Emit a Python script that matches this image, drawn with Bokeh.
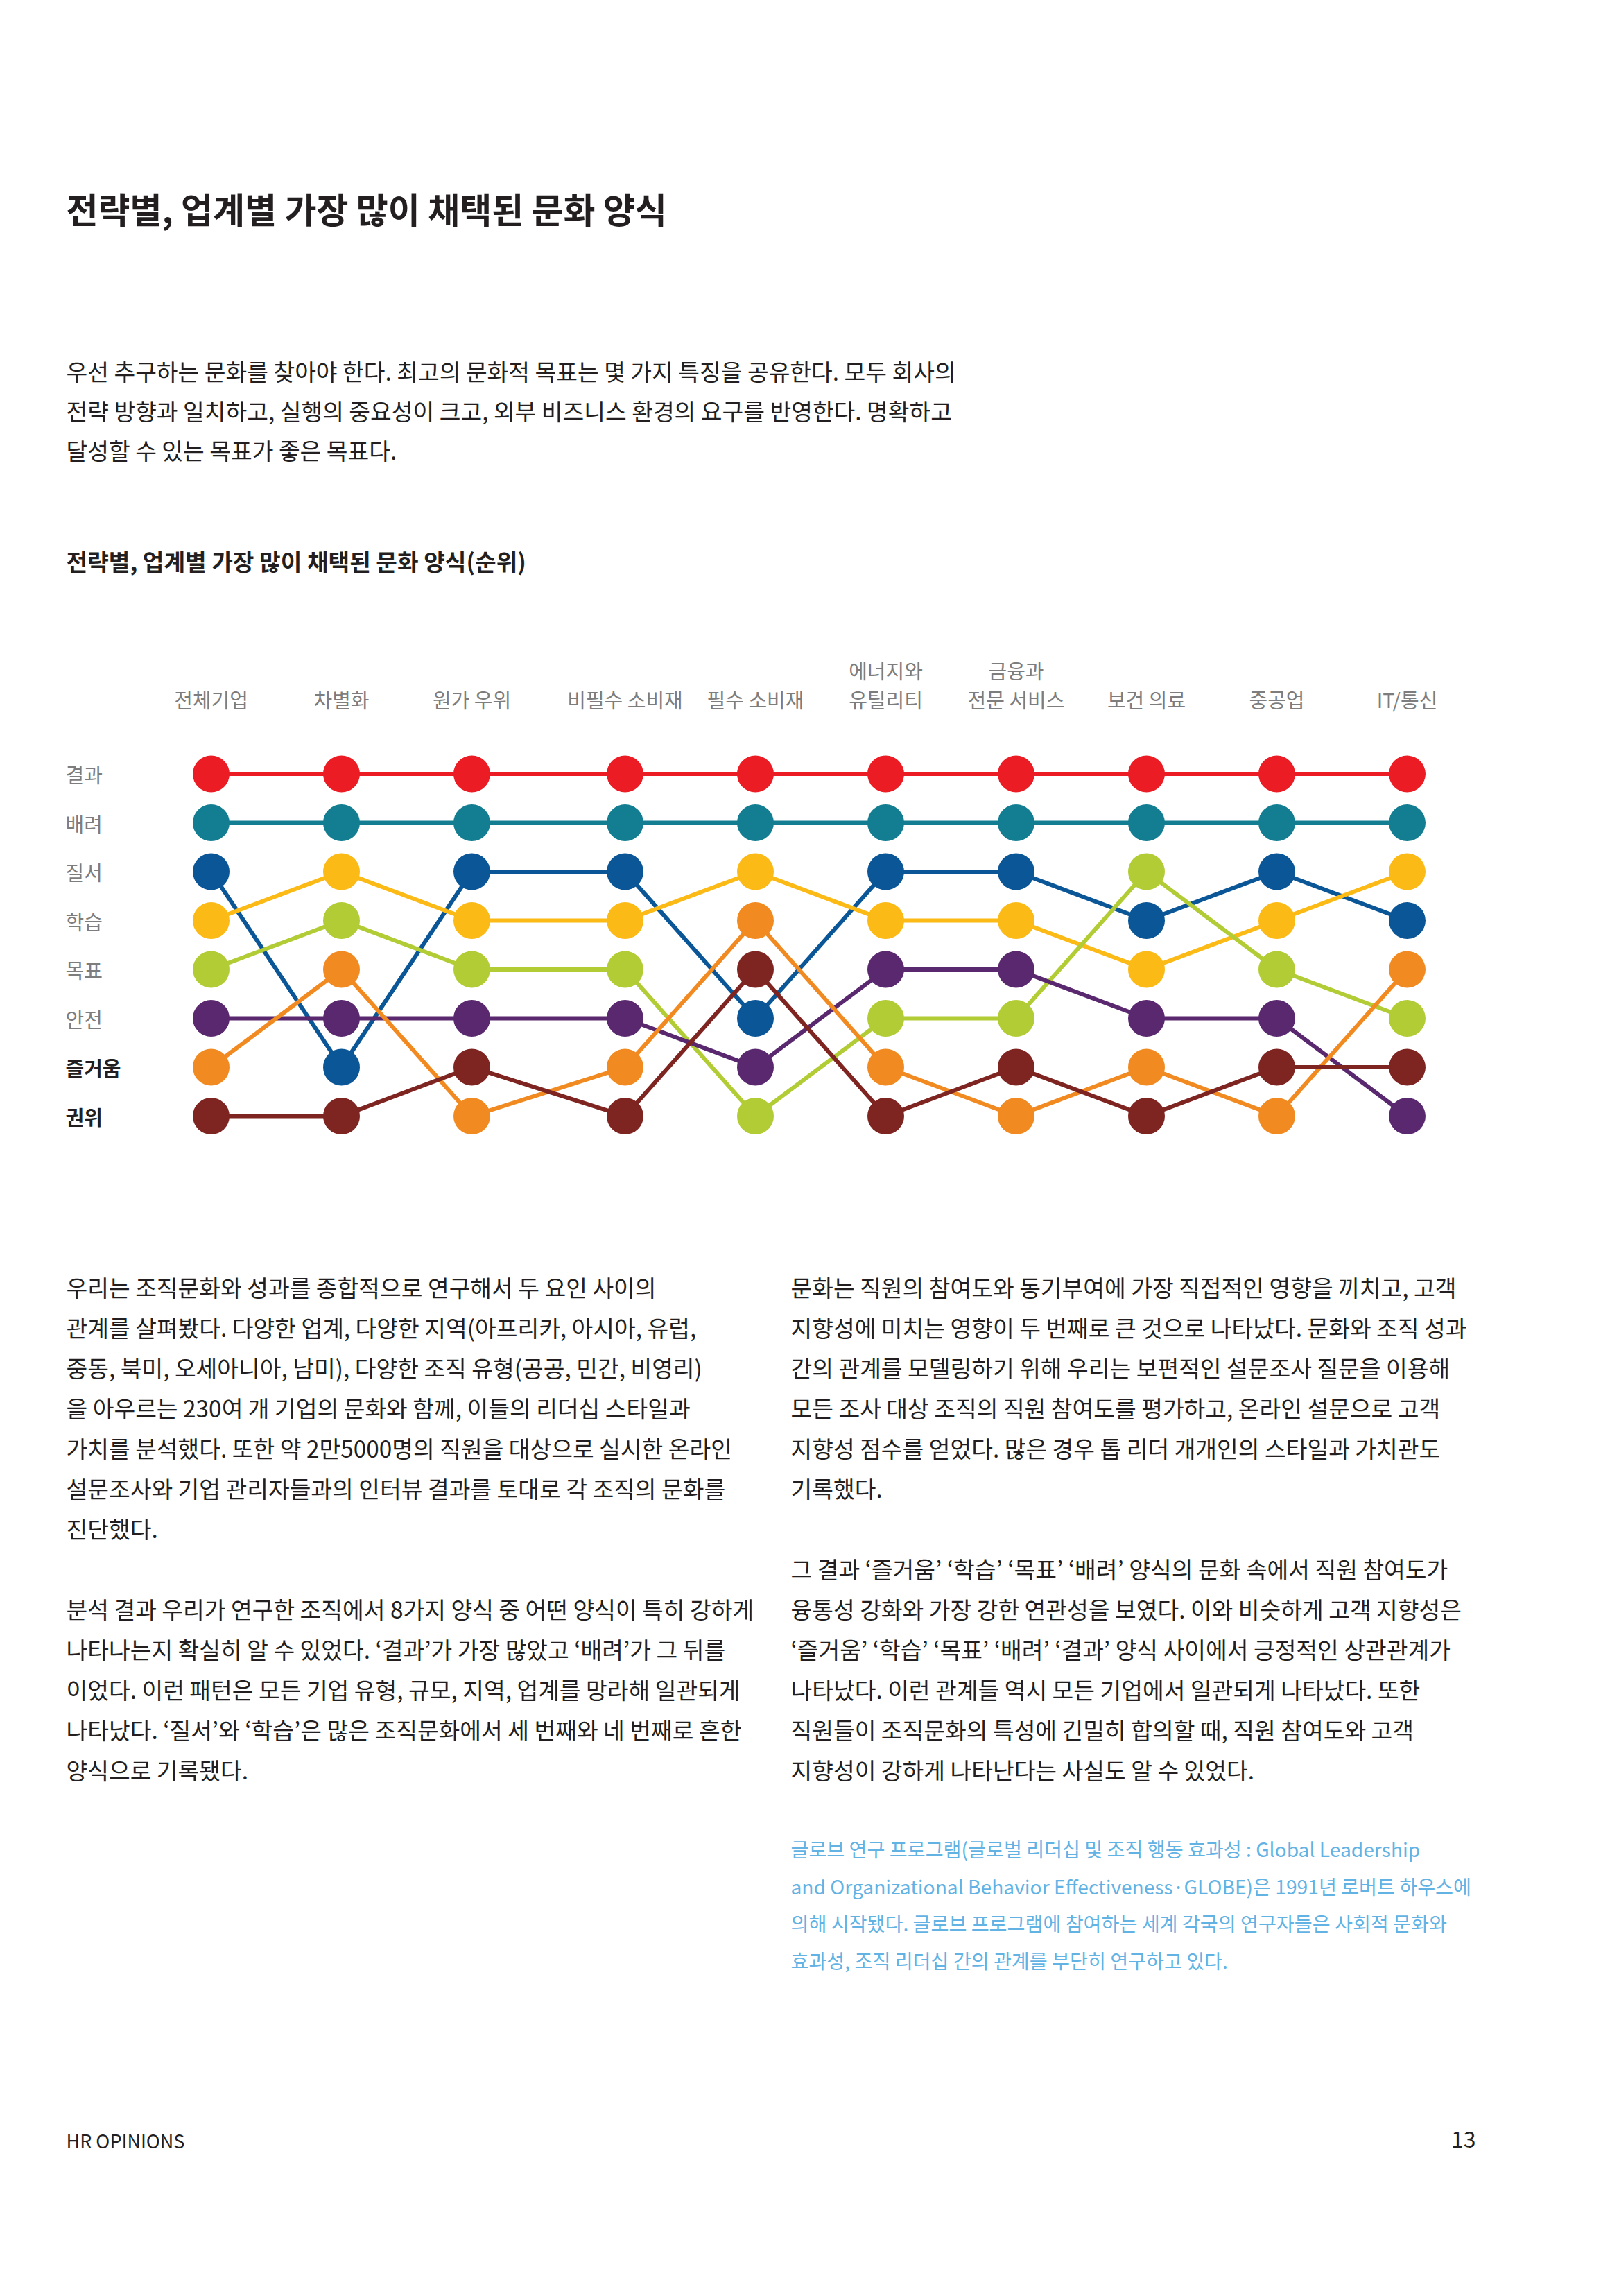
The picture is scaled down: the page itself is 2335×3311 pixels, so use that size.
from bokeh.plotting import figure
from bokeh.layouts import column
from bokeh.models import FactorRange, Range1d
from bokeh.core.properties import value
from bokeh.embed import file_html
from bokeh.resources import INLINE

# ---------------- data ----------------
groups = ["전략", "전략", "전략", "업계", "업계", "업계", "업계", "업계", "업계", "업계"]
columns = ["전체기업", "차별화", "원가 우위", "비필수 소비재", "필수 소비재",
           "에너지와 유틸리티", "금융과 전문 서비스", "보건 의료", "중공업", "IT/통신"]
column_label_top = ["", "", "", "", "", "에너지와", "금융과", "", "", ""]
column_label_bottom = ["전체기업", "차별화", "원가 우위", "비필수 소비재", "필수 소비재",
                       "유틸리티", "전문 서비스", "보건 의료", "중공업", "IT/통신"]

styles = ["결과", "배려", "질서", "학습", "목표", "안전", "즐거움", "권위"]
rank_result = [1, 1, 1, 1, 1, 1, 1, 1, 1, 1]
rank_caring = [2, 2, 2, 2, 2, 2, 2, 2, 2, 2]
rank_order = [3, 7, 3, 3, 6, 3, 3, 4, 3, 4]
rank_learning = [4, 3, 4, 4, 3, 4, 4, 5, 4, 3]
rank_purpose = [5, 4, 5, 5, 8, 6, 6, 3, 5, 6]
rank_safety = [6, 6, 6, 6, 7, 5, 5, 6, 6, 8]
rank_enjoyment = [7, 5, 8, 7, 4, 7, 8, 7, 8, 5]
rank_authority = [8, 8, 7, 8, 5, 8, 7, 8, 7, 7]
style_colors = ["#EC1C24", "#137E92", "#0B5697", "#FBBA15",
                "#B2CC35", "#5A286F", "#F18A21", "#7E2421"]
emphasised = ["즐거움", "권위"]

title = "전략별, 업계별 가장 많이 채택된 문화 양식"
subtitle = "전략별, 업계별 가장 많이 채택된 문화 양식(순위)"
intro_lines = [
    "우선 추구하는 문화를 찾아야 한다. 최고의 문화적 목표는 몇 가지 특징을 공유한다. 모두 회사의",
    "전략 방향과 일치하고, 실행의 중요성이 크고, 외부 비즈니스 환경의 요구를 반영한다. 명확하고",
    "달성할 수 있는 목표가 좋은 목표다.",
]
left_lines = [
    "우리는 조직문화와 성과를 종합적으로 연구해서 두 요인 사이의",
    "관계를 살펴봤다. 다양한 업계, 다양한 지역(아프리카, 아시아, 유럽,",
    "중동, 북미, 오세아니아, 남미), 다양한 조직 유형(공공, 민간, 비영리)",
    "을 아우르는 230여 개 기업의 문화와 함께, 이들의 리더십 스타일과",
    "가치를 분석했다. 또한 약 2만5000명의 직원을 대상으로 실시한 온라인",
    "설문조사와 기업 관리자들과의 인터뷰 결과를 토대로 각 조직의 문화를",
    "진단했다.",
    "",
    "분석 결과 우리가 연구한 조직에서 8가지 양식 중 어떤 양식이 특히 강하게",
    "나타나는지 확실히 알 수 있었다. ‘결과’가 가장 많았고 ‘배려’가 그 뒤를",
    "이었다. 이런 패턴은 모든 기업 유형, 규모, 지역, 업계를 망라해 일관되게",
    "나타났다. ‘질서’와 ‘학습’은 많은 조직문화에서 세 번째와 네 번째로 흔한",
    "양식으로 기록됐다.",
]
right_lines = [
    "문화는 직원의 참여도와 동기부여에 가장 직접적인 영향을 끼치고, 고객",
    "지향성에 미치는 영향이 두 번째로 큰 것으로 나타났다. 문화와 조직 성과",
    "간의 관계를 모델링하기 위해 우리는 보편적인 설문조사 질문을 이용해",
    "모든 조사 대상 조직의 직원 참여도를 평가하고, 온라인 설문으로 고객",
    "지향성 점수를 얻었다. 많은 경우 톱 리더 개개인의 스타일과 가치관도",
    "기록했다.",
    "",
    "그 결과 ‘즐거움’ ‘학습’ ‘목표’ ‘배려’ 양식의 문화 속에서 직원 참여도가",
    "융통성 강화와 가장 강한 연관성을 보였다. 이와 비슷하게 고객 지향성은",
    "‘즐거움’ ‘학습’ ‘목표’ ‘배려’ ‘결과’ 양식 사이에서 긍정적인 상관관계가",
    "나타났다. 이런 관계들 역시 모든 기업에서 일관되게 나타났다. 또한",
    "직원들이 조직문화의 특성에 긴밀히 합의할 때, 직원 참여도와 고객",
    "지향성이 강하게 나타난다는 사실도 알 수 있었다.",
]
note_lines = [
    "글로브 연구 프로그램(글로벌 리더십 및 조직 행동 효과성 : Global Leadership",
    "and Organizational Behavior Effectiveness·GLOBE)은 1991년 로버트 하우스에",
    "의해 시작됐다. 글로브 프로그램에 참여하는 세계 각국의 연구자들은 사회적 문화와",
    "효과성, 조직 리더십 간의 관계를 부단히 연구하고 있다.",
]
footer_left = "HR OPINIONS"
page_number = "13"

# ---------------- layout constants (page pixels) ----------------
FONT = value("Noto Sans CJK KR")
W = 2333               # centred on the category span (page x 1166.5)
TOP_END = 900          # page y where chart figure starts
CHART_END = 1700       # page y where chart figure ends
PAGE_END = 3303
ROW1_Y, ROW_GAP = 1115.5, 70.5      # page px of rank 1 and px per rank
COL1_X = 305                          # page px of first category
UNIT = 188.0                          # px per category
GROUP_GAP = 0.1755
PAD = (W / UNIT - (len(columns) + GROUP_GAP)) / 2
INK = "#231F20"
GREY = "#7D7D7D"
BODY = "33.4px"


def base_fig(h, x_range, y_range):
    f = figure(width=W, height=h, x_range=x_range, y_range=y_range,
               output_backend="svg", toolbar_location=None,
               x_axis_location=None, y_axis_location=None,
               min_border=0, outline_line_color=None,
               background_fill_color="white", border_fill_color="white")
    f.grid.visible = False
    return f


def text_fig(y0, y1):
    return base_fig(y1 - y0, Range1d(0, W), Range1d(y1, y0))


def page_text(f, xs, ys, texts, size, color=INK, style="normal", align="left"):
    f.text(x=xs, y=ys, text=texts, text_font=FONT, text_font_size=size,
           text_color=color, text_font_style=style, text_align=align,
           text_baseline="middle")


# ---------------- top: title / intro / subtitle ----------------
top = text_fig(0, TOP_END)
page_text(top, [95], [299], [title], "50px", style="bold")
page_text(top, [95] * 3, [534 + 57 * i for i in range(3)], intro_lines, BODY)
page_text(top, [95], [808], [subtitle], "33.3px", style="bold")

# ---------------- chart ----------------
def page_to_rank(y):
    return 1 + (y - ROW1_Y) / ROW_GAP


factors = [(g, c) for g, c in zip(groups, columns)]
x_range = FactorRange(factors=factors, group_padding=GROUP_GAP,
                      range_padding=PAD, range_padding_units="absolute")
chart = base_fig(CHART_END - TOP_END, x_range,
                 Range1d(page_to_rank(CHART_END), page_to_rank(TOP_END)))

all_ranks = [rank_result, rank_caring, rank_order, rank_learning,
             rank_purpose, rank_safety, rank_enjoyment, rank_authority]
for ranks, col in zip(all_ranks, style_colors):
    chart.line(x=factors, y=ranks, line_color=col, line_width=6)
for ranks, col in zip(all_ranks, style_colors):
    chart.scatter(x=factors, y=ranks, size=53, fill_color=col, line_color=None)

# column headers
top_f = [f for f, t in zip(factors, column_label_top) if t]
top_t = [t for t in column_label_top if t]
chart.text(x=top_f, y=[page_to_rank(965)] * len(top_f), text=top_t,
           text_font=FONT, text_font_size="29px", text_color=GREY,
           text_align="center", text_baseline="middle")
chart.text(x=factors, y=[page_to_rank(1007)] * len(factors), text=column_label_bottom,
           text_font=FONT, text_font_size="29px", text_color=GREY,
           text_align="center", text_baseline="middle")

# row labels (overall ranking order = first column)
first_ranks = [r[0] for r in all_ranks]
plain = [(s, r) for s, r in zip(styles, first_ranks) if s not in emphasised]
bold = [(s, r) for s, r in zip(styles, first_ranks) if s in emphasised]
chart.text(x=[factors[0]] * len(plain), y=[r for _, r in plain], text=[s for s, _ in plain],
           x_offset=95 - COL1_X, text_font=FONT, text_font_size="29px", text_color=GREY,
           text_align="left", text_baseline="middle")
chart.text(x=[factors[0]] * len(bold), y=[r for _, r in bold], text=[s for s, _ in bold],
           x_offset=95 - COL1_X, text_font=FONT, text_font_size="29px", text_color=INK,
           text_font_style="bold", text_align="left", text_baseline="middle")

# ---------------- bottom: body text ----------------
bottom = text_fig(CHART_END, PAGE_END)
LINE = 58
TOP = 1855
lx = [(i, t) for i, t in enumerate(left_lines) if t]
page_text(bottom, [95] * len(lx), [TOP + LINE * i for i, _ in lx], [t for _, t in lx], BODY)
rx = [(i, t) for i, t in enumerate(right_lines) if t]
page_text(bottom, [1140] * len(rx), [TOP + LINE * i for i, _ in rx], [t for _, t in rx], BODY)
page_text(bottom, [1140] * len(note_lines), [2665 + 53.7 * i for i in range(len(note_lines))],
          note_lines, "28.2px", color="#62B3E4")
page_text(bottom, [95], [3086], [footer_left], "27px")
page_text(bottom, [2128], [3084], [page_number], "32px", align="right")

layout = column(top, chart, bottom, spacing=0)
open("out.html", "w").write(file_html(layout, INLINE))
